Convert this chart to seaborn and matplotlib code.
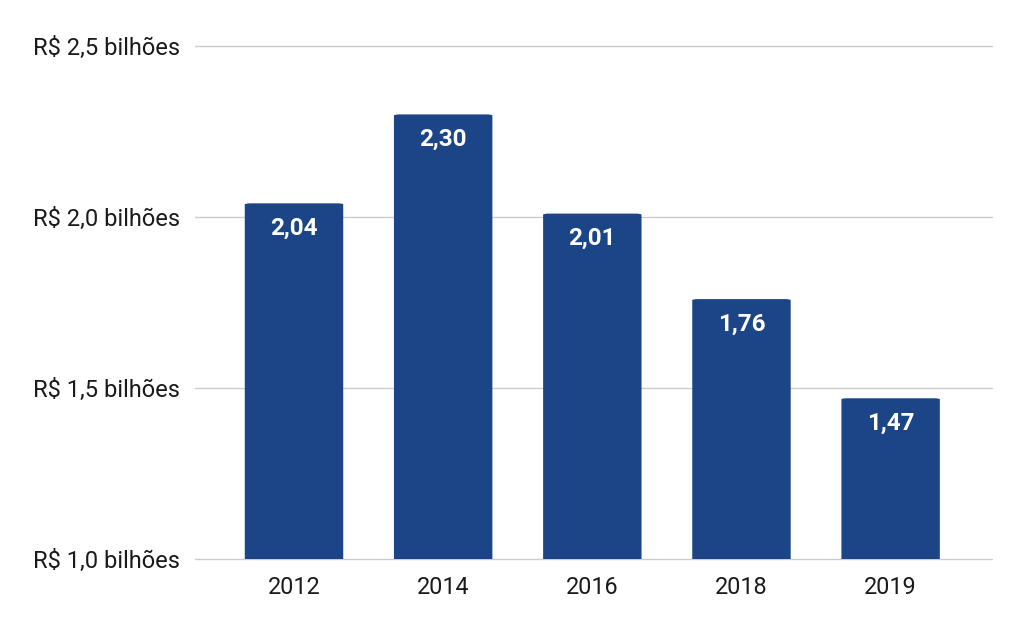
import matplotlib
matplotlib.use("Agg")
import matplotlib.pyplot as plt
import seaborn as sns
import pandas as pd
from matplotlib.patches import FancyBboxPatch

# dados
anos = ["2012", "2014", "2016", "2018", "2019"]
valores = [2.04, 2.30, 2.01, 1.76, 1.47]
rotulos_y = ["R$ 1,0 bilhões", "R$ 1,5 bilhões", "R$ 2,0 bilhões", "R$ 2,5 bilhões"]
ticks_y = [1.0, 1.5, 2.0, 2.5]

df = pd.DataFrame({"ano": anos, "valor": valores})

sns.set_style("white")
plt.rcParams["font.family"] = ["Roboto", "DejaVu Sans"]

fig = plt.figure(figsize=(10.24, 6.33), dpi=100)
ax = fig.add_axes([0.1904, 0.1169, 0.7784, 0.8104])

sns.barplot(data=df, x="ano", y="valor", color="#1c4587", saturation=1,
            width=0.66, ax=ax, zorder=3)

ax.set_ylim(1.0, 2.5)
ax.set_xlim(-0.664, 4.68)

# cantos arredondados no topo
for p in list(ax.patches):
    x0, w = p.get_x(), p.get_width()
    h = p.get_height()
    p.set_visible(False)
    r = ax.add_patch(FancyBboxPatch((x0, 0.9), w, h - 0.9,
                                    boxstyle="round,pad=0,rounding_size=0.04",
                                    mutation_aspect=0.0094 / 0.04 * 0.35,
                                    facecolor="#1c4587", edgecolor="none", zorder=3))

ax.set_yticks(ticks_y)
ax.set_yticklabels(rotulos_y)
ax.yaxis.grid(True, color="#cccccc", linewidth=1, zorder=0)
for l in ax.get_ygridlines():
    l.set_clip_on(False)
ax.set_xlabel("")
ax.set_ylabel("")
sns.despine(ax=ax, left=True, bottom=True)
ax.tick_params(axis="y", length=0, pad=11, labelsize=17, labelcolor="#1a1a1a")
ax.tick_params(axis="x", length=0, pad=12, labelsize=16.8, labelcolor="#1a1a1a")

# rótulos dentro das barras
for i, v in enumerate(valores):
    ax.annotate(f"{v:.2f}".replace(".", ","), (i, v), xytext=(0, -18),
                textcoords="offset points", ha="center", va="center",
                color="white", fontsize=17.5, fontweight="bold", zorder=4)

fig.savefig("out.png", dpi=100)
